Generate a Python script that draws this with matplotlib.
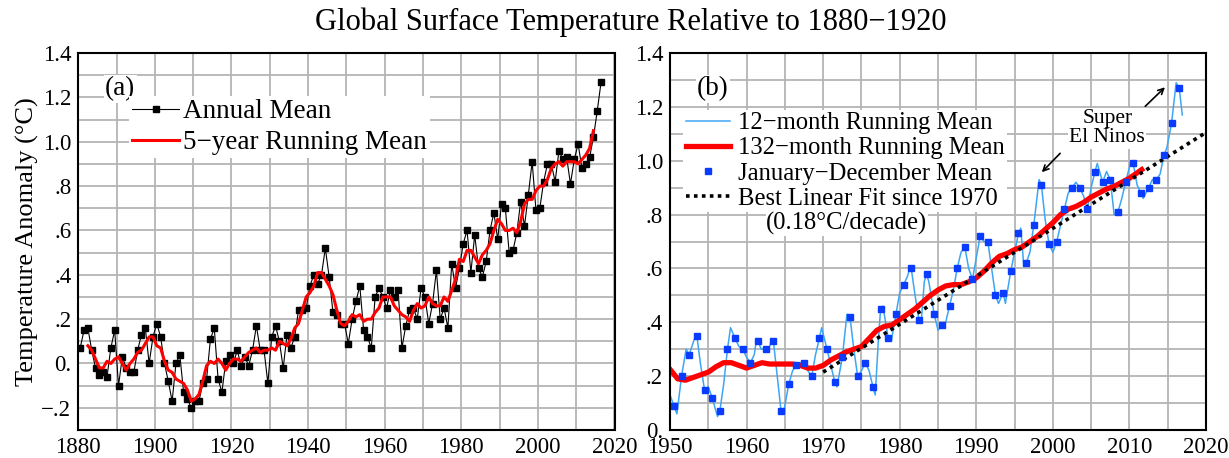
import numpy as np
import matplotlib.pyplot as plt
from matplotlib.ticker import MultipleLocator, FixedLocator, FixedFormatter

plt.rcParams['font.family'] = ['Liberation Serif', 'DejaVu Serif']

# ---- panel (a): annual mean and 5-year running mean
years = np.arange(1880, 2017)
annual = [
    0.07, 0.15, 0.16, 0.06, -0.02, -0.05, -0.04, -0.06, 0.07, 0.15,
    -0.10, 0.03, -0.02, -0.04, -0.04, 0.06, 0.13, 0.16, 0.00, 0.12,
    0.18, 0.12, 0.00, -0.08, -0.17, 0.00, 0.04, -0.13, -0.16, -0.20,
    -0.17, -0.17, -0.09, -0.07, 0.11, 0.16, -0.07, -0.13, 0.01, 0.04,
    0.00, 0.06, -0.01, 0.03, -0.01, 0.06, 0.17, 0.06, 0.06, -0.09,
    0.12, 0.17, 0.10, -0.02, 0.13, 0.07, 0.12, 0.24, 0.24, 0.25,
    0.35, 0.40, 0.36, 0.40, 0.52, 0.39, 0.23, 0.22, 0.18, 0.18,
    0.09, 0.20, 0.28, 0.35, 0.15, 0.12, 0.07, 0.30, 0.34, 0.30,
    0.25, 0.33, 0.30, 0.33, 0.07, 0.17, 0.24, 0.25, 0.20, 0.34,
    0.30, 0.18, 0.27, 0.42, 0.20, 0.25, 0.16, 0.45, 0.34, 0.43,
    0.54, 0.60, 0.41, 0.58, 0.43, 0.39, 0.46, 0.60, 0.68, 0.56,
    0.72, 0.70, 0.50, 0.51, 0.59, 0.73, 0.62, 0.76, 0.91, 0.69,
    0.70, 0.82, 0.90, 0.90, 0.82, 0.96, 0.92, 0.93, 0.81, 0.92,
    0.99, 0.88, 0.90, 0.93, 1.02, 1.14, 1.27]

run5_years = np.arange(1882, 2015)
run5 = [
    0.08, 0.06, 0.02, -0.02, -0.02, 0.01, 0.00, 0.02, 0.03, 0.00,
    -0.03, 0.00, 0.02, 0.05, 0.06, 0.09, 0.12, 0.12, 0.08, 0.07,
    0.01, -0.03, -0.04, -0.07, -0.08, -0.09, -0.12, -0.17, -0.16, -0.14,
    -0.08, -0.01, 0.01, 0.00, 0.02, 0.00, -0.03, 0.00, 0.02, 0.02,
    0.01, 0.03, 0.05, 0.06, 0.07, 0.05, 0.06, 0.06, 0.07, 0.06,
    0.10, 0.09, 0.08, 0.11, 0.16, 0.18, 0.24, 0.30, 0.32, 0.35,
    0.41, 0.41, 0.38, 0.35, 0.31, 0.24, 0.18, 0.17, 0.19, 0.22,
    0.21, 0.22, 0.19, 0.20, 0.20, 0.23, 0.25, 0.30, 0.30, 0.30,
    0.26, 0.24, 0.22, 0.21, 0.19, 0.24, 0.27, 0.25, 0.26, 0.30,
    0.27, 0.26, 0.26, 0.30, 0.28, 0.33, 0.38, 0.47, 0.46, 0.51,
    0.51, 0.48, 0.45, 0.49, 0.51, 0.54, 0.60, 0.65, 0.63, 0.60,
    0.60, 0.61, 0.59, 0.64, 0.72, 0.74, 0.74, 0.78, 0.80, 0.80,
    0.83, 0.88, 0.90, 0.91, 0.89, 0.91, 0.91, 0.91, 0.90, 0.92,
    0.94, 0.97, 1.05]

# ---- panel (b)
jd_years = np.arange(1950, 2017)
jd_mean = annual[70:]

# 12-month running mean (decimal year, anomaly)
run12_t = [1950.0, 1950.5, 1950.9, 1951.5, 1952.1, 1952.5, 1953.2, 1953.5, 1954.0, 1954.5,
           1955.0, 1955.5, 1956.2, 1956.5, 1957.0, 1957.5, 1957.9, 1958.5, 1959.0, 1959.5,
           1960.0, 1960.5, 1961.0, 1961.3, 1961.5, 1961.9, 1962.5, 1963.0, 1963.3, 1963.5,
           1964.0, 1964.5, 1964.8, 1965.5, 1966.0, 1966.5, 1967.0, 1967.5, 1968.0, 1968.5,
           1969.0, 1969.5, 1969.8, 1970.5, 1971.0, 1971.5, 1971.8, 1972.5, 1973.1, 1973.5,
           1974.0, 1974.5, 1975.0, 1975.5, 1976.0, 1976.5, 1976.8, 1977.2, 1977.5, 1977.8,
           1978.5, 1978.9, 1979.5, 1980.0, 1980.5, 1981.0, 1981.4, 1981.5, 1982.0, 1982.5,
           1982.8, 1983.2, 1983.5, 1983.8, 1984.5, 1985.0, 1985.5, 1986.0, 1986.5, 1987.0,
           1987.5, 1988.0, 1988.5, 1989.0, 1989.5, 1990.0, 1990.5, 1991.0, 1991.5, 1992.0,
           1992.5, 1992.9, 1993.5, 1993.8, 1994.5, 1995.0, 1995.5, 1995.8, 1996.2, 1996.5,
           1997.0, 1997.5, 1998.2, 1998.5, 1999.0, 1999.5, 2000.0, 2000.5, 2001.0, 2001.5,
           2002.0, 2002.5, 2003.0, 2003.5, 2004.0, 2004.5, 2005.0, 2005.5, 2005.8, 2006.5,
           2007.0, 2007.5, 2008.0, 2008.5, 2009.0, 2009.5, 2010.2, 2010.5, 2011.0, 2011.5,
           2011.8, 2012.5, 2013.0, 2013.5, 2014.0, 2014.5, 2014.9, 2015.5, 2016.1, 2016.5,
           2016.9]
run12_v = [0.13, 0.09, 0.06, 0.20, 0.30, 0.28, 0.34, 0.35, 0.24, 0.15,
           0.16, 0.12, 0.05, 0.07, 0.17, 0.30, 0.38, 0.34, 0.31, 0.30,
           0.27, 0.25, 0.28, 0.34, 0.33, 0.30, 0.30, 0.31, 0.34, 0.33,
           0.20, 0.07, 0.06, 0.17, 0.22, 0.24, 0.25, 0.25, 0.22, 0.20,
           0.28, 0.34, 0.38, 0.30, 0.24, 0.18, 0.16, 0.27, 0.43, 0.42,
           0.30, 0.20, 0.22, 0.25, 0.22, 0.16, 0.13, 0.33, 0.45, 0.46,
           0.34, 0.33, 0.43, 0.51, 0.54, 0.57, 0.61, 0.60, 0.50, 0.41,
           0.40, 0.55, 0.58, 0.55, 0.43, 0.37, 0.39, 0.40, 0.46, 0.52,
           0.60, 0.66, 0.68, 0.60, 0.56, 0.64, 0.72, 0.70, 0.70, 0.60,
           0.50, 0.47, 0.51, 0.47, 0.59, 0.66, 0.73, 0.75, 0.61, 0.62,
           0.66, 0.76, 0.93, 0.91, 0.78, 0.69, 0.66, 0.70, 0.76, 0.82,
           0.88, 0.90, 0.92, 0.90, 0.87, 0.82, 0.90, 0.96, 0.99, 0.92,
           0.96, 0.93, 0.80, 0.81, 0.86, 0.92, 1.00, 0.99, 0.91, 0.88,
           0.86, 0.90, 0.93, 0.93, 0.95, 1.02, 1.05, 1.14, 1.29, 1.27,
           1.17]

run132_years = [1950, 1951, 1952, 1953, 1954, 1955, 1956, 1957, 1958, 1959,
                1960, 1961, 1962, 1963, 1964, 1965, 1966, 1967, 1968, 1969,
                1970, 1971, 1972, 1973, 1974, 1975, 1976, 1977, 1978, 1979,
                1980, 1981, 1982, 1983, 1984, 1985, 1986, 1987, 1988, 1989,
                1990, 1991, 1992, 1993, 1994, 1995, 1996, 1997, 1998, 1999,
                2000, 2001, 2002, 2003, 2004, 2005, 2006, 2007, 2008, 2009,
                2010, 2011, 2011.6]
run132 = [0.225, 0.19, 0.185, 0.195, 0.205, 0.215, 0.235, 0.25, 0.25, 0.24,
          0.23, 0.24, 0.25, 0.245, 0.245, 0.245, 0.245, 0.24, 0.23, 0.23,
          0.24, 0.26, 0.275, 0.29, 0.30, 0.31, 0.34, 0.37, 0.385, 0.39,
          0.41, 0.43, 0.45, 0.475, 0.50, 0.52, 0.535, 0.54, 0.54, 0.55,
          0.565, 0.59, 0.62, 0.645, 0.655, 0.67, 0.68, 0.70, 0.72, 0.745,
          0.77, 0.80, 0.82, 0.83, 0.845, 0.865, 0.88, 0.895, 0.905, 0.92,
          0.935, 0.955, 0.967]

fit_years = [1970, 2020]
fit_vals = [0.215, 1.105]

grid_c = '#b4b4b4'

fig = plt.figure(figsize=(12.29, 4.58), dpi=100)
ax1 = fig.add_axes([0.0637, 0.0611, 0.4363, 0.8231])
ax2 = fig.add_axes([0.5452, 0.0611, 0.4361, 0.8231])

# panel (a)
ax1.plot(years + 0.5, annual, color='black', lw=0.8, marker='s', ms=4.5,
         label='Annual Mean')
ax1.plot(run5_years + 0.5, run5, color='#ff0000', lw=2.2,
         label='5\u2212year Running Mean')
ax1.set_xlim(1880, 2020)
ax1.set_ylim(-0.3, 1.4)
ax1.xaxis.set_major_locator(MultipleLocator(20))
ax1.xaxis.set_minor_locator(MultipleLocator(10))
ax1.yaxis.set_major_locator(FixedLocator([-0.2, 0, 0.2, 0.4, 0.6, 0.8, 1.0, 1.2, 1.4]))
ax1.yaxis.set_major_formatter(FixedFormatter(['\u2212.2', '0.', '.2', '.4', '.6', '.8',
                                              '1.0', '1.2', '1.4']))
ax1.yaxis.set_minor_locator(MultipleLocator(0.1))
ax1.set_ylabel('Temperature Anomaly (\u00b0C)', fontsize=19, labelpad=2)
leg1 = ax1.legend(loc='upper left', bbox_to_anchor=(0.095, 0.885), fontsize=19.5,
                  frameon=True, facecolor='white', edgecolor='none', framealpha=1,
                  handlelength=1.75, handletextpad=0.15, borderpad=0.1,
                  labelspacing=0.22, borderaxespad=0, fancybox=False)
ax1.text(0.078, 0.905, '(a)', transform=ax1.transAxes, fontsize=19.5,
         ha='center', va='center',
         bbox=dict(facecolor='white', edgecolor='none', pad=1))

# panel (b)
ax2.plot(fit_years, fit_vals, color='black', lw=2.6, ls=(0, (1, 1.2)),
         label='Best Linear Fit since 1970', zorder=4)
ax2.plot(run12_t, run12_v, color='#3ca6f5', lw=1.1,
         label='12\u2212month Running Mean', zorder=3)
ax2.plot(run132_years, run132, color='#ff0000', lw=3.8,
         label='132\u2212month Running Mean', zorder=3)
ax2.plot(jd_years + 0.5, jd_mean, ls='none', marker='s', ms=5, color='#0a3cff',
         label='January\u2212December Mean', zorder=5)
ax2.set_xlim(1950, 2020)
ax2.set_ylim(0, 1.4)
ax2.xaxis.set_major_locator(MultipleLocator(10))
ax2.xaxis.set_minor_locator(MultipleLocator(5))
ax2.yaxis.set_major_locator(FixedLocator([0, 0.2, 0.4, 0.6, 0.8, 1.0, 1.2, 1.4]))
ax2.yaxis.set_major_formatter(FixedFormatter(['0.', '.2', '.4', '.6', '.8',
                                              '1.0', '1.2', '1.4']))
ax2.yaxis.set_minor_locator(MultipleLocator(0.1))

h, l = ax2.get_legend_handles_labels()
order_leg = [1, 2, 3, 0]
leg2 = ax2.legend([h[i] for i in order_leg], [l[i] for i in order_leg],
                  loc='upper left', bbox_to_anchor=(0.025, 0.85), fontsize=17.7,
                  frameon=True, facecolor='white', edgecolor='none', framealpha=1,
                  handlelength=1.8, handletextpad=0.3, borderpad=0.1,
                  labelspacing=0.12, borderaxespad=0, fancybox=False)
ax2.text(0.33, 0.548, '(0.18\u00b0C/decade)', transform=ax2.transAxes, fontsize=17.7,
         ha='center', va='center', zorder=10,
         bbox=dict(facecolor='white', edgecolor='none', pad=0.5))
ax2.text(0.08, 0.905, '(b)', transform=ax2.transAxes, fontsize=19.5,
         ha='center', va='center',
         bbox=dict(facecolor='white', edgecolor='none', pad=1))
ax2.text(2007.1, 1.12, 'Super\nEl Ninos', fontsize=15.5, ha='center', va='center',
         linespacing=1.0, bbox=dict(facecolor='white', edgecolor='none', pad=1))
ax2.annotate('', xy=(1998.3, 0.95), xytext=(2001.2, 1.035),
             arrowprops=dict(arrowstyle='->', color='black', lw=1.2))
ax2.annotate('', xy=(2014.9, 1.28), xytext=(2011.8, 1.195),
             arrowprops=dict(arrowstyle='->', color='black', lw=1.2))

for ax in (ax1, ax2):
    ax.grid(True, which='both', color=grid_c, lw=1.3)
    ax.set_axisbelow(True)
    ax.tick_params(which='both', length=0, labelsize=16.5, pad=5)
    for s in ax.spines.values():
        s.set_linewidth(1.5)
        s.set_zorder(6)

fig.text(0.513, 0.952, 'Global Surface Temperature Relative to 1880\u22121920',
         fontsize=22, ha='center', va='center')

fig.savefig('out.png', dpi=100)
